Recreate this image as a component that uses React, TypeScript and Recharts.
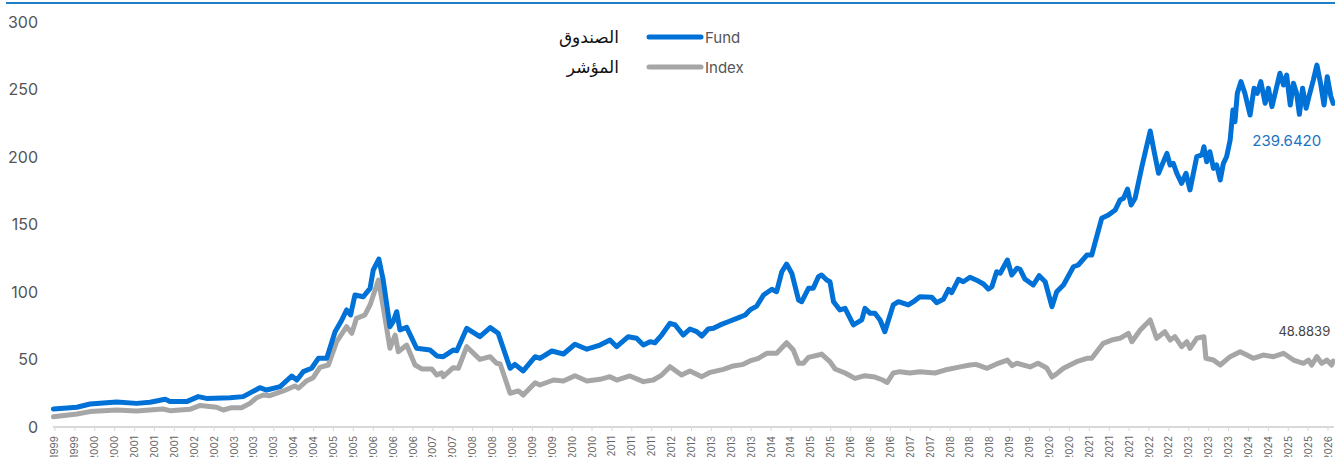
import React from 'react';
import { LineChart, Line, XAxis, YAxis } from 'recharts';

// x values are months counted from Jan 1999 (0 = Jan 1999)
const fundMonths = [
  3.6, 9.5, 12.8, 19.5, 24.5, 27.9, 31.7, 32.9, 37.1, 40.0, 42.1, 48.0, 51.3, 55.5, 57.2, 60.6,
  63.5, 64.8, 66.4, 68.5, 70.2, 72.3, 74.4, 76.1, 77.3, 78.3, 79.4, 81.5, 83.2, 84.0, 85.4, 86.5,
  88.2, 89.0, 89.9, 90.7, 92.4, 94.9, 98.3, 100.0, 101.6, 104.1, 105.0, 107.5, 110.8, 113.4, 115.4, 118.4,
  119.6, 121.7, 124.7, 125.9, 128.9, 131.8, 134.7, 137.7, 141.0, 143.5, 145.2, 148.1, 150.2, 151.9, 153.6, 154.8,
  156.5, 158.6, 159.9, 161.9, 163.6, 165.3, 166.6, 168.2, 169.5, 171.2, 173.7, 175.4, 177.5, 178.7, 180.4, 182.1,
  184.2, 185.4, 186.7, 187.9, 189.2, 190.9, 191.7, 193.4, 194.6, 195.9, 196.7, 198.0, 198.8, 199.7, 201.3, 202.6,
  204.7, 206.8, 207.6, 208.9, 210.1, 211.4, 212.6, 214.7, 216.0, 218.5, 219.8, 221.4, 224.4, 225.6, 227.3, 228.6,
  229.4, 231.1, 232.3, 234.0, 236.1, 237.4, 238.6, 239.5, 240.7, 241.6, 243.4, 244.5, 245.8, 246.6, 247.8, 249.9,
  251.4, 252.9, 254.6, 255.8, 257.5, 260.0, 261.2, 263.4, 264.6, 267.1, 268.8, 270.5, 271.7, 272.6, 273.6, 274.5,
  275.5, 277.2, 279.3, 280.3, 281.4, 283.5, 284.3, 285.1, 286.0, 287.2, 288.3, 289.3, 291.0, 292.3, 292.8, 293.5,
  294.3, 295.2, 296.0, 296.9, 297.7, 298.5, 299.4, 300.1, 300.6, 301.2, 302.1, 303.1, 304.4, 305.4, 306.2, 307.1,
  308.2, 309.0, 309.9, 310.9, 311.9, 312.8, 313.6, 314.5, 315.3, 316.1, 316.8, 317.6, 318.5, 319.3, 320.3, 321.2,
  322.2, 323.0, 323.8, 324.7, 325.3,
];
const fundValues = [
  13.3, 14.6, 17.0, 18.5, 17.5, 18.3, 20.5, 18.8, 18.8, 22.5, 21.2, 21.7, 22.5, 29.1, 27.4, 29.9,
  37.8, 34.8, 41.0, 43.5, 50.9, 50.9, 70.6, 79.3, 86.7, 83.0, 97.8, 96.5, 102.7, 116.3, 124.4, 108.9,
  74.3, 78.0, 85.4, 71.9, 73.8, 58.3, 57.0, 52.6, 52.1, 57.0, 56.5, 73.1, 66.9, 73.6, 69.4, 43.5,
  46.4, 41.5, 52.1, 50.9, 56.3, 54.1, 61.3, 57.6, 60.7, 64.4, 59.5, 66.9, 65.7, 60.7, 63.2, 62.4,
  68.1, 76.8, 75.6, 68.1, 72.6, 70.6, 67.4, 72.6, 73.1, 75.6, 78.5, 80.5, 83.0, 86.7, 89.6, 97.8,
  102.0, 100.2, 115.0, 120.7, 113.9, 94.1, 92.8, 102.7, 102.7, 111.3, 112.6, 108.9, 107.6, 92.8, 86.7, 87.9,
  75.6, 79.3, 87.9, 84.2, 84.2, 79.3, 70.6, 90.4, 92.8, 90.4, 92.8, 96.5, 96.1, 92.1, 94.6, 102.0,
  99.5, 109.4, 107.6, 110.9, 108.1, 105.9, 102.2, 103.9, 115.0, 113.9, 123.7, 112.6, 117.6, 116.8, 109.6, 105.2,
  112.1, 107.6, 89.1, 100.2, 105.2, 118.7, 120.0, 127.4, 127.4, 154.6, 157.0, 160.7, 168.1, 169.4, 176.3, 164.4,
  169.4, 192.8, 219.3, 203.9, 187.9, 202.7, 194.1, 195.3, 187.9, 180.5, 187.9, 175.6, 200.2, 201.5, 207.6, 196.5,
  203.9, 191.6, 194.1, 183.0, 195.3, 200.2, 212.6, 234.8, 226.1, 247.2, 255.8, 247.2, 231.1, 250.9, 247.2, 255.8,
  239.8, 250.9, 237.3, 249.6, 262.0, 253.3, 260.7, 238.5, 254.6, 247.2, 231.6, 250.9, 236.1, 245.9, 257.0, 268.1,
  253.3, 238.5, 259.5, 245.0, 239.642,
];

const indexMonths = [
  3.6, 9.5, 12.8, 19.5, 24.5, 31.1, 32.9, 37.9, 40.5, 44.6, 46.3, 48.4, 50.9, 53.0, 54.7, 56.4,
  58.0, 61.4, 64.3, 65.2, 67.3, 68.9, 70.6, 72.7, 74.8, 77.3, 78.6, 79.8, 81.9, 83.2, 85.3, 86.5,
  88.2, 89.5, 90.3, 92.4, 94.5, 96.2, 98.7, 100.0, 101.2, 101.6, 104.1, 105.4, 107.5, 110.8, 113.4, 115.0,
  115.9, 118.4, 120.5, 121.7, 124.7, 125.9, 129.3, 131.8, 134.7, 137.7, 141.0, 143.5, 145.2, 148.5, 151.9, 154.4,
  156.5, 158.6, 161.5, 163.6, 166.6, 168.7, 172.0, 174.5, 177.0, 178.7, 180.8, 182.9, 185.4, 187.9, 189.6, 190.9,
  192.1, 193.4, 195.9, 196.7, 198.8, 200.1, 202.6, 205.1, 207.6, 210.1, 211.9, 213.2, 214.7, 216.4, 218.9, 221.4,
  225.2, 227.7, 231.5, 234.0, 235.5, 238.3, 240.7, 243.4, 244.6, 245.8, 249.1, 251.1, 253.3, 254.6, 255.6, 257.5,
  260.8, 263.4, 264.6, 267.5, 269.6, 271.7, 273.8, 274.7, 276.8, 279.3, 280.9, 283.0, 284.3, 285.5, 287.2, 288.5,
  289.3, 291.0, 292.8, 293.3, 295.2, 296.9, 299.4, 301.9, 303.6, 305.2, 307.7, 310.3, 312.8, 315.3, 317.8, 319.1,
  319.9, 321.2, 322.4, 323.7, 324.9, 325.3,
];
const indexValues = [
  7.6, 9.6, 11.4, 12.6, 11.9, 13.3, 12.1, 13.1, 16.0, 14.6, 12.6, 14.3, 14.3, 17.5, 21.7, 23.7,
  23.2, 26.7, 30.4, 28.7, 34.3, 36.5, 44.2, 45.9, 63.2, 74.3, 69.4, 80.5, 83.0, 90.4, 108.9, 89.1,
  58.3, 68.1, 55.8, 60.7, 45.9, 43.0, 43.0, 38.5, 40.2, 37.3, 43.9, 43.5, 59.5, 50.1, 52.1, 47.2,
  46.7, 25.0, 26.7, 23.7, 32.8, 31.1, 34.8, 34.1, 38.0, 34.1, 35.3, 37.3, 34.8, 37.8, 33.6, 34.8,
  38.5, 44.7, 38.5, 41.5, 37.3, 40.5, 42.7, 45.2, 46.4, 48.9, 50.9, 54.6, 54.6, 62.4, 57.0, 47.2,
  47.2, 51.6, 53.3, 54.0, 48.4, 43.0, 40.0, 36.0, 38.0, 37.0, 35.0, 33.0, 40.0, 41.0, 40.0, 41.0,
  40.0, 42.2, 44.5, 45.9, 46.4, 43.5, 46.7, 49.6, 45.5, 47.2, 44.5, 47.2, 43.7, 37.0, 39.0, 43.5,
  48.4, 50.9, 50.9, 62.0, 64.4, 65.7, 69.4, 63.2, 71.9, 79.3, 65.7, 70.6, 64.4, 66.9, 59.5, 63.2,
  58.3, 65.7, 66.9, 50.9, 49.6, 45.9, 52.1, 55.8, 53.3, 50.9, 53.3, 52.1, 54.6, 49.6, 47.2, 49.6,
  45.9, 52.1, 47.2, 49.6, 45.9, 48.8839,
];

const tickMonths = [
  4, 9, 14, 19, 24, 29, 34, 39, 44, 49, 54, 59, 64, 69, 74, 79, 84, 89, 94, 99, 104, 109, 114, 119,
  124, 129, 134, 139, 144, 149, 154, 159, 164, 169, 174, 179, 184, 189, 194, 199, 204, 209, 214, 219,
  224, 229, 234, 239, 244, 249, 254, 259, 264, 269, 274, 279, 284, 289, 294, 299, 304, 309, 314, 319, 324,
];
const tickLabels = [
  '1999', '1999', '2000', '2000', '2001', '2001', '2001', '2002', '2002', '2003', '2003', '2003',
  '2004', '2004', '2005', '2005', '2006', '2006', '2006', '2007', '2007', '2008', '2008', '2008',
  '2009', '2009', '2010', '2010', '2011', '2011', '2011', '2012', '2012', '2013', '2013', '2013',
  '2014', '2014', '2015', '2015', '2016', '2016', '2016', '2017', '2017', '2018', '2018', '2018',
  '2019', '2019', '2020', '2020', '2021', '2021', '2021', '2022', '2022', '2023', '2023', '2023',
  '2024', '2024', '2025', '2025', '2026',
];
const yTicks = [0, 50, 100, 150, 200, 250, 300];

const seriesNamesEn = ['Fund', 'Index'];
const seriesNamesAr = ['الصندوق', 'المؤشر'];

const FUND_COLOR = '#0071D6';
const INDEX_COLOR = '#A6A6A6';

const fundData = fundMonths.map((m, i) => ({ m, v: fundValues[i] }));
const indexData = indexMonths.map((m, i) => ({ m, v: indexValues[i] }));

const XTick = ({ x, y, payload }: any) => {
  const label = tickLabels[tickMonths.indexOf(payload.value)];
  return (
    <g transform={`translate(${x},${y})`}>
      <text
        x={0}
        y={0}
        dy={3.5}
        transform="rotate(-90)"
        textAnchor="end"
        fontSize={10}
        fill="#666"
        fontFamily="Inter, sans-serif"
      >
        {label}
      </text>
    </g>
  );
};

const makeEndLabel = (data: any[], color: string, size: number, dx: number, dy: number) =>
  (props: any) => {
    const { x, y, index } = props;
    if (index !== data.length - 1) return null;
    return (
      <text
        x={x + dx}
        y={y + dy}
        textAnchor="end"
        dominantBaseline="central"
        fontSize={size}
        fill={color}
        fontFamily="Inter, sans-serif"
      >
        {data[index].v.toFixed(4)}
      </text>
    );
  };

const ChartLegend = () => (
  <div style={{ position: 'absolute', top: 22, left: 540, width: 220, height: 60 }}>
    {seriesNamesEn.map((name, i) => (
      <div
        key={name}
        style={{
          position: 'absolute',
          top: i * 30,
          left: 0,
          width: 220,
          height: 30,
          display: 'flex',
          alignItems: 'center',
        }}
      >
        <span
          style={{
            width: 79,
            textAlign: 'right',
            fontFamily: '"DejaVu Sans", sans-serif',
            fontSize: 17,
            color: '#111',
          }}
        >
          {seriesNamesAr[i]}
        </span>
        <svg width={58} height={8} style={{ marginLeft: 27 }}>
          <line
            x1={3}
            y1={4}
            x2={55}
            y2={4}
            stroke={i === 0 ? FUND_COLOR : INDEX_COLOR}
            strokeWidth={5}
            strokeLinecap="round"
          />
        </svg>
        <span style={{ marginLeft: 1, fontFamily: 'Inter, sans-serif', fontSize: 15, color: '#555' }}>
          {name}
        </span>
      </div>
    ))}
  </div>
);

export default function App() {
  return (
    <div
      style={{
        position: 'absolute',
        top: 0,
        left: 0,
        width: 1335,
        height: 457,
        background: '#fff',
        overflow: 'hidden',
      }}
    >
      <div
        style={{
          position: 'absolute',
          top: 2,
          left: 6,
          right: 0,
          height: 2,
          background: '#1F7EC4',
        }}
      />
      <LineChart
        width={1335}
        height={457}
        margin={{ top: 22, right: 1, bottom: 0, left: 0 }}
      >
        <XAxis
          dataKey="m"
          type="number"
          domain={[3.5, 325.5]}
          ticks={tickMonths}
          interval={0}
          height={30}
          axisLine={{ stroke: '#D9D9D9', strokeWidth: 2 }}
          tickLine={{ stroke: '#D9D9D9' }}
          tickSize={4}
          tickMargin={5}
          tick={<XTick />}
          allowDuplicatedCategory={false}
        />
        <YAxis
          domain={[0, 300]}
          ticks={yTicks}
          width={53}
          axisLine={false}
          tickLine={false}
          tickSize={0}
          tickMargin={15}
          tick={{ fontSize: 16, fill: '#555', fontFamily: 'Inter, sans-serif' }}
        />
        <Line
          data={indexData}
          dataKey="v"
          name="Index"
          stroke={INDEX_COLOR}
          strokeWidth={5}
          strokeLinejoin="round"
          strokeLinecap="round"
          dot={false}
          type="linear"
          isAnimationActive={false}
          label={makeEndLabel(indexData, '#444', 13, -3, -30)}
        />
        <Line
          data={fundData}
          dataKey="v"
          name="Fund"
          stroke={FUND_COLOR}
          strokeWidth={5}
          strokeLinejoin="round"
          strokeLinecap="round"
          dot={false}
          type="linear"
          isAnimationActive={false}
          label={makeEndLabel(fundData, '#2272C3', 15, -12, 37)}
        />
      </LineChart>
      <ChartLegend />
    </div>
  );
}
